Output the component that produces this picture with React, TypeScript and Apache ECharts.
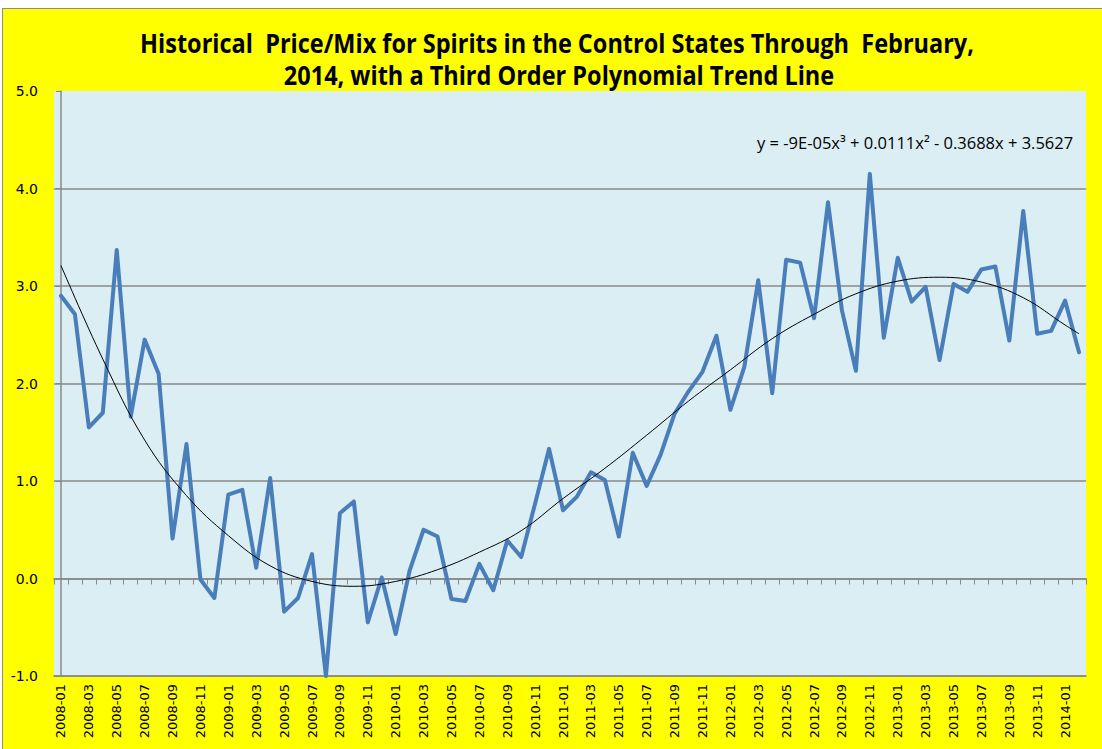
import React, { useEffect, useRef } from "react";
import * as echarts from "echarts";

const months = [
  "2008-01","2008-02","2008-03","2008-04","2008-05","2008-06","2008-07","2008-08","2008-09","2008-10","2008-11","2008-12",
  "2009-01","2009-02","2009-03","2009-04","2009-05","2009-06","2009-07","2009-08","2009-09","2009-10","2009-11","2009-12",
  "2010-01","2010-02","2010-03","2010-04","2010-05","2010-06","2010-07","2010-08","2010-09","2010-10","2010-11","2010-12",
  "2011-01","2011-02","2011-03","2011-04","2011-05","2011-06","2011-07","2011-08","2011-09","2011-10","2011-11","2011-12",
  "2012-01","2012-02","2012-03","2012-04","2012-05","2012-06","2012-07","2012-08","2012-09","2012-10","2012-11","2012-12",
  "2013-01","2013-02","2013-03","2013-04","2013-05","2013-06","2013-07","2013-08","2013-09","2013-10","2013-11","2013-12",
  "2014-01","2014-02",
];

const priceMix = [
  2.90, 2.71, 1.55, 1.70, 3.37, 1.66, 2.45, 2.10, 0.41, 1.38,
  -0.01, -0.20, 0.86, 0.91, 0.11, 1.03, -0.34, -0.20, 0.25, -1.00,
  0.67, 0.79, -0.45, 0.01, -0.57, 0.08, 0.50, 0.43, -0.21, -0.23,
  0.15, -0.12, 0.39, 0.22, 0.77, 1.33, 0.70, 0.84, 1.09, 1.01,
  0.43, 1.29, 0.95, 1.27, 1.69, 1.92, 2.12, 2.49, 1.73, 2.17,
  3.06, 1.90, 3.27, 3.24, 2.67, 3.86, 2.75, 2.13, 4.15, 2.47,
  3.29, 2.84, 2.99, 2.24, 3.02, 2.94, 3.17, 3.20, 2.44, 3.77,
  2.51, 2.54, 2.85, 2.32,
];

const trendIndex = [0, 3, 6, 9, 12, 15, 18, 21, 24, 27, 30, 33, 36, 39, 42, 45, 48, 51, 54, 57, 60, 63, 66, 69, 72, 73];
const trendValue = [3.21, 2.25, 1.42, 0.85, 0.44, 0.13, -0.03, -0.08, -0.03, 0.09, 0.27, 0.49, 0.82, 1.13, 1.47, 1.82, 2.14, 2.46, 2.71, 2.92, 3.05, 3.09, 3.04, 2.88, 2.60, 2.51];

const yTicks = [-1, 0, 1, 2, 3, 4, 5];

const titleLines = [
  "Historical  Price/Mix for Spirits in the Control States Through  February,",
  "2014, with a Third Order Polynomial Trend Line",
];
const equation = "y = -9E-05x\u00B3 + 0.0111x\u00B2 - 0.3688x + 3.5627";

export default function App() {
  const ref = useRef<HTMLDivElement>(null);
  useEffect(() => {
    if (!ref.current) return;
    const chart = echarts.init(ref.current, null, { renderer: "svg" });
    const grey = "#888888";
    const titleStyle = (text: string) => ({
      text,
      fontSize: 23.5,
      fontWeight: "bold",
      fontFamily: "Open Sans",
      fill: "#000",
      align: "center",
      verticalAlign: "middle",
    });
    chart.setOption({
      animation: false,
      backgroundColor: "transparent",
      textStyle: { fontFamily: "DejaVu Sans" },
      grid: {
        left: 54,
        right: 16,
        top: 91,
        bottom: 73,
        show: true,
        backgroundColor: "#DBEEF3",
        borderWidth: 0,
        containLabel: false,
      },
      xAxis: [
        {
          type: "category",
          data: months,
          boundaryGap: true,
          position: "bottom",
          axisLine: { show: true, onZero: false, lineStyle: { color: grey, width: 1.5 } },
          axisTick: { show: false },
          axisLabel: {
            rotate: 90,
            interval: 1,
            color: "#000",
            fontSize: 13,
            fontFamily: "DejaVu Sans",
            margin: 8,
          },
          splitLine: { show: false },
        },
        {
          type: "category",
          data: months,
          boundaryGap: true,
          position: "bottom",
          axisLine: { show: true, onZero: true, lineStyle: { color: grey, width: 1.5 } },
          axisTick: { show: true, length: 6, inside: false, interval: 0, lineStyle: { color: grey, width: 1 } },
          axisLabel: { show: false },
          splitLine: { show: false },
        },
        {
          type: "value",
          min: -0.5,
          max: 73.5,
          show: false,
        },
      ],
      yAxis: {
        type: "value",
        min: -1,
        max: 5,
        interval: 1,
        axisLine: { show: true, lineStyle: { color: grey, width: 1.5 } },
        axisTick: { show: true, length: 5, inside: false, lineStyle: { color: grey } },
        axisLabel: {
          color: "#000",
          fontSize: 14,
          margin: 16,
          fontFamily: "DejaVu Sans",
          formatter: (v: number) => (yTicks.includes(v) ? v.toFixed(1) : ""),
        },
        splitLine: { show: true, showMaxLine: false, lineStyle: { color: grey, width: 1.5 } },
      },
      series: [
        {
          type: "line",
          name: "Price/Mix",
          xAxisIndex: 0,
          data: priceMix,
          symbol: "none",
          lineStyle: { color: "#4A7EBB", width: 4, join: "round", cap: "round" },
          z: 3,
        },
        {
          type: "line",
          name: "Trend",
          xAxisIndex: 2,
          data: trendIndex.map((x, i) => [x, trendValue[i]]),
          symbol: "none",
          smooth: 0.4,
          lineStyle: { color: "#000", width: 1 },
          z: 4,
        },
      ],
      graphic: [
        { type: "text", x: 557, y: 42, scaleY: 1.12, style: titleStyle(titleLines[0]) },
        { type: "text", x: 559, y: 74, scaleY: 1.12, style: titleStyle(titleLines[1]) },
        {
          type: "text",
          x: 757,
          y: 142,
          z: 10,
          style: {
            text: equation,
            fontSize: 16.5,
            fontFamily: "Open Sans",
            fill: "#000",
            align: "left",
            verticalAlign: "middle",
          },
        },
      ],
    });
    return () => chart.dispose();
  }, []);

  return (
    <div style={{ position: "fixed", left: 0, top: 0, width: 1102, height: 749, background: "#fff", overflow: "hidden" }}>
      <div
        style={{
          position: "absolute",
          left: 2,
          top: 8,
          width: 1100,
          height: 741,
          background: "#FFFF00",
          borderTop: "1px solid #8c8c8c",
          borderLeft: "1px solid #8c8c8c",
          boxSizing: "border-box",
        }}
      />
      <div ref={ref} style={{ position: "absolute", left: 0, top: 0, width: 1102, height: 749 }} />
    </div>
  );
}
